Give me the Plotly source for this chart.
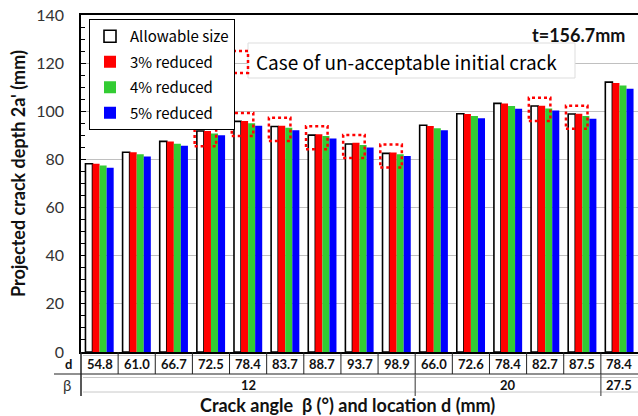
import plotly.graph_objects as go

# ---------------- data ----------------
d_labels = ["54.8", "61.0", "66.7", "72.5", "78.4", "83.7", "88.7", "93.7", "98.9",
            "66.0", "72.6", "78.4", "82.7", "87.5", "78.4"]
beta_labels = ["12", "12", "12", "12", "12", "12", "12", "12", "12",
               "20", "20", "20", "20", "20", "27.5"]
allowable = [78.2, 83.0, 87.5, 91.8, 95.8, 93.7, 90.1, 86.4, 82.5, 94.2, 99.0, 103.3, 102.2, 98.9, 112.1]
reduced3 = [78.2, 83.0, 87.5, 91.8, 96.0, 94.0, 90.5, 86.9, 82.9, 93.9, 98.9, 103.2, 102.3, 99.0, 111.7]
reduced4 = [77.5, 82.1, 86.5, 90.8, 95.0, 93.2, 89.7, 86.0, 82.1, 93.0, 98.0, 102.2, 101.2, 98.0, 110.7]
reduced5 = [76.5, 81.2, 85.7, 90.0, 94.0, 92.1, 88.7, 85.0, 81.4, 92.1, 97.1, 101.1, 100.3, 96.9, 109.4]
unacceptable = [0, 0, 0, 1, 1, 1, 1, 1, 1, 0, 0, 0, 1, 1, 0]

series_names = ["Allowable size", "3% reduced", "4% reduced", "5% reduced"]

# ---------------- layout constants ----------------
W, H = 638, 416
L, R, T, B = 81, 0, 15, 64
PW = W - L - R
PH = H - T - B
n = len(d_labels)
xs = list(range(n))

def px_x(p):
    return (p - L) / PW

def px_y(p):
    return (H - B - p) / PH

LAT = "Lato, 'Open Sans', sans-serif"
JP = "'Noto Sans CJK JP', 'Noto Sans', sans-serif"

fig = go.Figure()
colors = ["white", "#FF0000", "#33CC33", "#0000FF"]
for name, vals, col in zip(series_names, [allowable, reduced3, reduced4, reduced5], colors):
    fig.add_trace(go.Bar(
        x=xs, y=vals, name=name, legendgroup=name,
        marker=dict(color=col,
                    line=dict(color="black" if col == "white" else col,
                              width=1.6 if col == "white" else 0)),
    ))

shapes = []
annotations = []

def ann(x, y, text, xref="paper", yref="paper", xanchor="center", yanchor="middle", **kw):
    annotations.append(dict(x=x, y=y, xref=xref, yref=yref, text=text, showarrow=False,
                            xanchor=xanchor, yanchor=yanchor, **kw))

# dotted red boxes marking un-acceptable cases
for i, flag in enumerate(unacceptable):
    if flag:
        top = max(allowable[i], reduced3[i]) + 3.3
        shapes.append(dict(type="rect", xref="x", yref="y",
                           x0=i - 0.44, x1=i + 0.14, y0=top - 9.6, y1=top,
                           line=dict(color="#FF0000", width=2.5, dash="dot"),
                           fillcolor="rgba(0,0,0,0)", layer="above"))

# ---- data table below the axis ----
y_axis = px_y(352)
y_row1 = px_y(374)
y_row2 = px_y(396)
dark = "#222222"
light = "#C8C8C8"
shapes.append(dict(type="line", xref="paper", yref="paper", x0=px_x(54), x1=1.0,
                   y0=y_row1, y1=y_row1, line=dict(color=dark, width=1.2)))
shapes.append(dict(type="line", xref="paper", yref="paper", x0=px_x(83), x1=1.0,
                   y0=px_y(355.5), y1=px_y(355.5), line=dict(color=light, width=1)))
shapes.append(dict(type="line", xref="paper", yref="paper", x0=px_x(83), x1=1.0,
                   y0=px_y(377.5), y1=px_y(377.5), line=dict(color=light, width=1)))
shapes.append(dict(type="line", xref="paper", yref="paper", x0=px_x(83), x1=1.0,
                   y0=px_y(392), y1=px_y(392), line=dict(color=light, width=1)))
shapes.append(dict(type="line", xref="paper", yref="paper", x0=0, x1=0,
                   y0=y_axis, y1=y_row2, line=dict(color=dark, width=1.5)))
for k in range(1, n):
    shapes.append(dict(type="line", xref="x", yref="paper", x0=k - 0.5, x1=k - 0.5,
                       y0=y_axis, y1=y_row1, line=dict(color=dark, width=1)))
groups = []
start = 0
for i in range(1, n + 1):
    if i == n or beta_labels[i] != beta_labels[start]:
        groups.append((start, i - 1, beta_labels[start]))
        start = i
for (a, b, lab) in groups:
    if b < n - 1:
        shapes.append(dict(type="line", xref="x", yref="paper", x0=b + 0.5, x1=b + 0.5,
                           y0=y_row1, y1=y_row2, line=dict(color="#555555", width=1.2)))
    ann((a + b) / 2, px_y(384.5), f"<b>{lab}</b>", xref="x",
        font=dict(family=LAT, size=13, color="#111"))
for i, lab in enumerate(d_labels):
    ann(i, px_y(364), f"<b>{lab}</b>", xref="x",
        font=dict(family=LAT, size=13, color="#111"))
ann(px_x(68), px_y(364), "<b>d</b>", font=dict(family=LAT, size=13, color="#111"))
ann(px_x(67), px_y(385), "β", font=dict(family=LAT, size=15, color="#333"))

# axis titles
ann(px_x(347), px_y(405), "<b>Crack angle  β (°) and location d (mm)</b>",
    font=dict(family=LAT, size=18, color="#111"))
ann(px_x(18), px_y(174), "<b>Projected crack depth 2a' (mm)</b>", textangle=-90,
    font=dict(family=LAT, size=18, color="#111"))

# t = ...
ann(px_x(627), px_y(35), "<b>t=156.7mm</b>", xanchor="right",
    font=dict(family=LAT, size=18, color="#111"))

# case-of box
shapes.append(dict(type="rect", xref="paper", yref="paper",
                   x0=px_x(248), x1=px_x(575), y0=px_y(78), y1=px_y(43),
                   line=dict(color="#DDDDDD", width=1), fillcolor="white", layer="above"))
shapes.append(dict(type="rect", xref="paper", yref="paper",
                   x0=px_x(228), x1=px_x(248), y0=px_y(73), y1=px_y(51),
                   line=dict(color="#FF0000", width=2.5, dash="dot"),
                   fillcolor="rgba(0,0,0,0)", layer="above"))
ann(px_x(254), px_y(61), "Case of un-acceptable initial crack", xanchor="left",
    font=dict(family=JP, size=19, color="#000"))

fig.update_layout(
    width=W, height=H,
    margin=dict(l=L, r=R, t=T, b=B),
    paper_bgcolor="white", plot_bgcolor="white",
    barmode="group", bargap=0.24, bargroupgap=0,
    showlegend=True,
    legend=dict(x=px_x(89), y=px_y(19), xanchor="left", yanchor="top",
                bgcolor="white", bordercolor="black", borderwidth=1,
                font=dict(family=JP, size=15, color="#000"),
                traceorder="grouped", tracegroupgap=3, itemwidth=30),
    shapes=shapes, annotations=annotations,
    xaxis=dict(range=[-0.5, n - 0.5], showticklabels=False, ticks="",
               showgrid=False, zeroline=False, showline=True, linecolor="black",
               linewidth=1.5, mirror=True),
    yaxis=dict(range=[0, 140], dtick=20, showgrid=True, gridcolor="#C0C0C0", gridwidth=1,
               zeroline=False, showline=True, linecolor="black", linewidth=1.5,
               ticks="inside", ticklen=5, tickcolor="black",
               minor=dict(dtick=5, ticks="inside", ticklen=4, tickcolor="black", showgrid=False),
               tickfont=dict(family=LAT, size=16, color="#333"), ticklabelstandoff=12),
)

fig.write_html("out.html")
